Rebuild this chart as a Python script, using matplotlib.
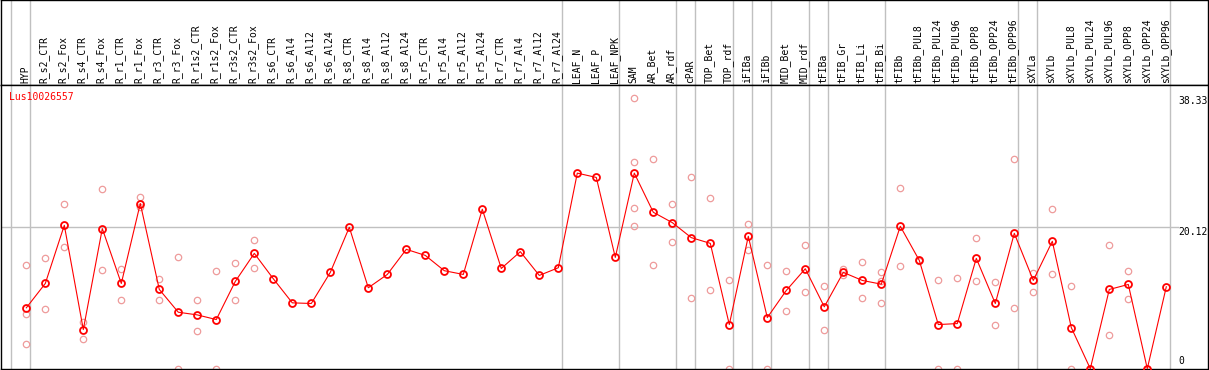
"""Expression profile chart: per-sample mean (red line) plus replicates (pink)."""

import matplotlib

matplotlib.use("Agg")

import matplotlib.pyplot as plt

plt.rcParams["font.family"] = ["DejaVu Sans Mono"]

gene_id = "Lus10026557"

samples = [
    "HYP",
    "R_s2_CTR", "R_s2_Fox", "R_s4_CTR", "R_s4_Fox", "R_r1_CTR", "R_r1_Fox",
    "R_r3_CTR", "R_r3_Fox", "R_r1s2_CTR", "R_r1s2_Fox", "R_r3s2_CTR", "R_r3s2_Fox",
    "R_s6_CTR", "R_s6_Al4", "R_s6_Al12", "R_s6_Al24", "R_s8_CTR", "R_s8_Al4",
    "R_s8_Al12", "R_s8_Al24", "R_r5_CTR", "R_r5_Al4", "R_r5_Al12", "R_r5_Al24",
    "R_r7_CTR", "R_r7_Al4", "R_r7_Al12", "R_r7_Al24",
    "LEAF_N", "LEAF_P", "LEAF_NPK",
    "SAM", "AR_Bet", "AR_rdf",
    "cPAR",
    "TOP_Bet", "TOP_rdf",
    "iFIBa",
    "iFIBb",
    "MID_Bet", "MID_rdf",
    "tFIBa",
    "tFIB_Gr", "tFIB_Li", "tFIB_Bi",
    "tFIBb", "tFIBb_PUL8", "tFIBb_PUL24", "tFIBb_PUL96", "tFIBb_OPP8",
    "tFIBb_OPP24", "tFIBb_OPP96",
    "sXYLa",
    "sXYLb", "sXYLb_PUL8", "sXYLb_PUL24", "sXYLb_PUL96", "sXYLb_OPP8",
    "sXYLb_OPP24", "sXYLb_OPP96",
]

# index of the last sample in each group (a grey separator follows it)
group_ends = [-1, 0, 28, 31, 34, 35, 37, 38, 39, 41, 42, 45, 52, 53, 60]

means = [
    8.63,
    12.09, 20.34, 5.55, 19.87, 12.09, 23.43,
    11.24, 8.01, 7.63, 6.97, 12.38, 16.36,
    12.76, 9.34, 9.25, 13.66, 20.06, 11.48,
    13.37, 16.93, 16.07, 13.90, 13.37, 22.62,
    14.22, 16.60, 13.23, 14.32,
    27.74, 27.13, 15.79,
    27.74, 22.19, 20.72,
    18.59,
    17.78, 6.26,
    18.78,
    7.25,
    11.10, 14.18,
    8.78,
    13.66, 12.52, 11.99,
    20.20, 15.36, 6.26, 6.40, 15.65,
    9.25, 19.20,
    12.52,
    18.07, 5.83, 0.0, 11.24, 11.95,
    0.0, 11.62,
]

replicates = [
    [14.65, 7.82, 3.56],
    [15.65, 8.53], [23.43, 17.31], [6.64, 4.22], [25.56, 14.04], [14.18, 9.77], [24.32, 23.0],
    [12.66, 9.77], [15.89, 0.0], [9.77, 5.41], [13.90, 0.0], [14.94, 9.77], [18.30, 14.32],
    [], [], [], [], [], [],
    [], [], [], [], [], [],
    [], [], [], [],
    [], [], [],
    [38.33, 29.26, 22.86, 20.30], [29.69, 14.75], [23.43, 18.02],
    [27.13, 10.06],
    [24.28, 11.10], [12.52, 0.0],
    [20.48, 16.79],
    [14.65, 0.0],
    [13.80, 8.25], [17.60, 10.81],
    [11.66, 5.55],
    [14.08, 13.23], [15.18, 10.06], [13.75, 12.42, 9.34],
    [25.70, 14.50], [15.45, 15.30], [12.62, 0.0], [12.90, 0.0], [18.60, 12.47],
    [12.33, 6.22], [29.69, 8.63],
    [13.51, 10.91],
    [22.72, 13.47], [11.66, 0.0], [0.0, 0.0], [17.60, 4.79], [13.90, 9.82],
    [0.0, 0.0], [],
]

y_ticks = [38.33, 20.12, 0]

W, H = 1209, 370
fig = plt.figure(figsize=(W / 100, H / 100), dpi=100)

# pixel layout
x0, x1 = 1, 1208
head_h = 85
plot_bot = 369
px_per_col = 19.0
col0_px = 26.3
y0_px, px_per_unit = 368.7, 7.05

xlim = ((x0 - col0_px) / px_per_col, (x1 - col0_px) / px_per_col)
ylim = ((y0_px - plot_bot) / px_per_unit, (y0_px - head_h) / px_per_unit)

ax_h = fig.add_axes([x0 / W, 1 - head_h / H, (x1 - x0) / W, head_h / H])
ax = fig.add_axes([x0 / W, 1 - plot_bot / H, (x1 - x0) / W, (plot_bot - head_h) / H])

for a in (ax_h, ax):
    a.set_xlim(*xlim)
    a.set_xticks([])
    a.set_yticks([])
    for s in a.spines.values():
        s.set_color("black")
        s.set_linewidth(1.0)
ax_h.set_ylim(0, 1)
ax.set_ylim(*ylim)

# group separators through header and plot (4 px right of the last column)
sep_off = 4.0 / px_per_col
for e in group_ends:
    for a in (ax_h, ax):
        a.axvline(e + sep_off, color="#c0c0c0", linewidth=1.0, zorder=1)

ax.axhline(y_ticks[1], xmin=0, xmax=(1178 - x0) / (x1 - x0), color="#c0c0c0",
           linewidth=1.0, zorder=1)

# column labels
for i, name in enumerate(samples):
    ax_h.text(i - 0.05, 0.025, name, rotation=90, ha="center", va="bottom",
              fontsize=7, color="black")

# replicates
for i, reps in enumerate(replicates):
    if reps:
        ax.plot([i] * len(reps), reps, linestyle="none", marker="o", ms=4.6,
                mfc="none", mec="#ee9b9b", mew=0.9, clip_on=False, zorder=2)

# means
x = list(range(len(means)))
ax.plot(x, means, color="red", linewidth=0.8, marker="o", ms=5.0, mfc="none",
        mec="red", mew=1.3, clip_on=False, zorder=3)

# y labels on the right
lab_x = (1178 - x0) / (x1 - x0)
ytr = ax.get_yaxis_transform()
ax.text(lab_x, y_ticks[0] + 0.3, f"{y_ticks[0]:.2f}", transform=ytr,
        ha="left", va="top", fontsize=7)
ax.text(lab_x, y_ticks[1], f"{y_ticks[1]:.2f}", transform=ytr,
        ha="left", va="top", fontsize=7)
ax.text(lab_x, y_ticks[2] + 0.4, f"{y_ticks[2]}", transform=ytr,
        ha="left", va="bottom", fontsize=7)

ax.text((9.5 - x0) / (x1 - x0), (plot_bot - 97) / (plot_bot - head_h), gene_id,
        transform=ax.transAxes, ha="left", va="center", fontsize=7, color="red")

fig.savefig("out.png", dpi=100)
plt.close(fig)
